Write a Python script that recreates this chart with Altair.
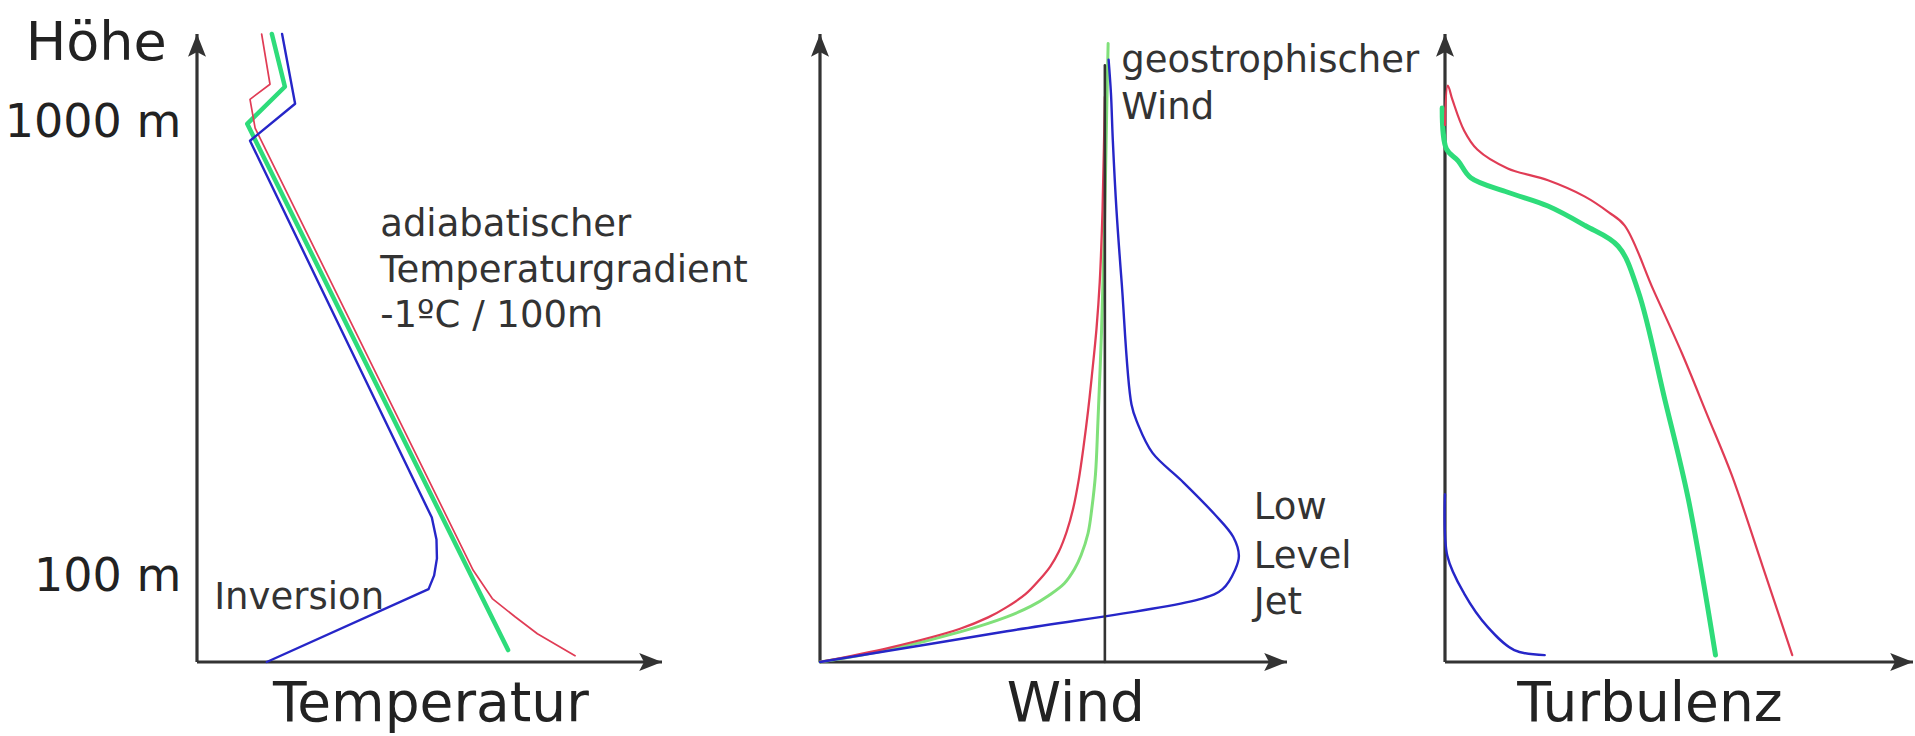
import altair as alt
import pandas as pd

FONT = "DejaVu Sans"
AXIS_COLOR = "#333333"
TEXT_COLOR = "#2a2a2a"
RED = "#e03c55"
GREEN = "#2edc7a"
LIGHT_GREEN = "#80e07a"
BLUE = "#2626c8"

# All three panels use relative units: 0 at the axis origin, 100 at the arrow tip.

# --- Temperatur (Höhe over Temperatur) ---
temp_red_x = [13.9, 15.7, 11.4, 12.5, 59.4, 63.5, 68.4, 73.2, 81.3]
temp_red_y = [100.0, 92.0, 89.6, 85.0, 14.6, 10.1, 7.2, 4.5, 1.0]
temp_green_x = [16.1, 18.9, 10.8, 66.9]
temp_green_y = [100.0, 91.6, 85.7, 1.9]
temp_blue_x = [18.3, 21.1, 11.4, 50.5, 51.5, 51.6, 51.0, 49.8, 15.0]
temp_blue_y = [100.0, 88.9, 83.0, 23.0, 19.5, 16.5, 13.8, 11.6, 0.0]

height_tick_values = [85.8, 13.5]
height_tick_labels = ["1000 m", "100 m"]

# --- Wind ---
wind_red_x = [0, 15, 30, 36, 39.9, 44, 47, 49.3, 51.1, 52.8, 54.2, 55.4, 56.4,
              57.4, 58.2, 59.2, 59.9, 60.5, 60.8, 61.0]
wind_red_y = [0, 2.3, 5.3, 7.1, 8.7, 10.8, 13.1, 15.2, 17.5, 20.7, 24.4, 29.0,
              34.1, 40.0, 45.5, 53.0, 60.5, 72.0, 82.0, 90.0]
wind_green_x = [0, 15, 30, 40, 45.2, 49, 52.3, 54.5, 55.9, 57.4, 58.2, 59.0,
                59.5, 60.3, 60.8, 61.1, 61.4, 61.7]
wind_green_y = [0, 2.0, 4.8, 7.2, 8.9, 10.6, 12.5, 14.8, 17.0, 20.5, 24.4, 30.0,
                38.0, 53.0, 66.0, 76.0, 88.0, 98.5]
wind_blue_x = [0, 40, 81.8, 86.2, 88.9, 89.7, 88.5, 84.4, 77.4, 71.2, 68.0, 66.7,
               64.6, 63.5, 62.7, 62.3, 61.8]
wind_blue_y = [0, 4.9, 10.1, 11.6, 14.7, 16.9, 19.9, 23.6, 28.9, 33.3, 38.0, 41.0,
               60.4, 71.8, 83.1, 90.6, 95.9]
geostrophic_x = [61.0, 61.0]
geostrophic_y = [0.0, 95.0]

# --- Turbulenz ---
turb_red_x = [0, 0.6, 1.6, 4.1, 6.9, 13.4, 22.0, 29.9, 35.0, 38.4, 44.5, 50.6,
              56.0, 61.3, 67.8, 74.2]
turb_red_y = [85.5, 91.8, 89.5, 84.6, 81.6, 78.6, 76.7, 74.1, 71.6, 69.5, 59.3,
              49.2, 39.4, 29.7, 15.4, 1.1]
turb_green_x = [-0.6, 0.3, 2.8, 5.5, 13.4, 22.0, 29.9, 37.0, 41.3, 47.0, 52.0, 57.8]
turb_green_y = [88.2, 81.7, 79.8, 77.1, 74.8, 72.6, 69.5, 66.2, 59.0, 41.7, 25.9, 1.1]
turb_blue_x = [0, 0.5, 4.1, 9.1, 14.8, 21.3]
turb_blue_y = [26.7, 16.9, 10.9, 5.6, 1.9, 1.1]

# Annotations (text, x, y in panel units)
temp_notes = [("adiabatischer", 39.4, 67.8),
              ("Temperaturgradient", 39.4, 60.5),
              ("-1ºC / 100m", 39.4, 53.4),
              ("Inversion", 3.7, 8.4)]
wind_notes = [("geostrophischer", 64.5, 94.0),
              ("Wind", 64.5, 86.4),
              ("Low", 92.9, 22.7),
              ("Level", 92.9, 15.0),
              ("Jet", 92.9, 7.6)]
panel_titles = [("Temperatur", 50.3), ("Wind", 54.8), ("Turbulenz", 43.8)]
title_y = -9.4

ARROW_RIGHT = "M1,0 L-0.9,-0.75 L-0.5,0 L-0.9,0.75 Z"
ARROW_UP = "M0,-1 L-0.75,0.9 L0,0.5 L0.75,0.9 Z"
ARROW_SIZE = 576  # half-extent of 12 px

X = alt.Scale(domain=[0, 100], nice=False, zero=False)
Y = alt.Scale(domain=[0, 100], nice=False, zero=False)


def xy(xfield="x", yfield="y"):
    return dict(x=alt.X(f"{xfield}:Q", scale=X, axis=None),
                y=alt.Y(f"{yfield}:Q", scale=Y, axis=None))


def curve(xs, ys, color, width, interpolate="linear"):
    df = pd.DataFrame({"x": xs, "y": ys, "i": list(range(len(xs)))})
    return alt.Chart(df).mark_line(
        color=color, strokeWidth=width, interpolate=interpolate,
        strokeCap="round", strokeJoin="round"
    ).encode(order="i:Q", **xy())


def axes():
    df = pd.DataFrame({"x0": [0], "x1": [100], "y0": [0], "y1": [100]})
    base = alt.Chart(df)
    x_line = base.mark_rule(color=AXIS_COLOR, strokeWidth=3.2).encode(
        x=alt.X("x0:Q", scale=X, axis=None), x2="x1:Q",
        y=alt.Y("y0:Q", scale=Y, axis=None))
    y_line = base.mark_rule(color=AXIS_COLOR, strokeWidth=3.2).encode(
        x=alt.X("x0:Q", scale=X, axis=None),
        y=alt.Y("y0:Q", scale=Y, axis=None), y2="y1:Q")
    x_head = base.mark_point(shape=ARROW_RIGHT, size=ARROW_SIZE, filled=True,
                             color=AXIS_COLOR, opacity=1, strokeWidth=0,
                             xOffset=-12).encode(**xy("x1", "y0"))
    y_head = base.mark_point(shape=ARROW_UP, size=ARROW_SIZE, filled=True,
                             color=AXIS_COLOR, opacity=1, strokeWidth=0,
                             yOffset=12).encode(**xy("x0", "y1"))
    return [x_line, y_line, x_head, y_head]


def texts(rows, size, align, baseline, color=TEXT_COLOR):
    df = pd.DataFrame(rows, columns=["text", "x", "y"])
    return alt.Chart(df).mark_text(
        font=FONT, fontSize=size, align=align, baseline=baseline, color=color
    ).encode(text="text:N", **xy())


def title(i):
    name, x = panel_titles[i]
    return texts([(name, x, title_y)], 55, "center", "alphabetic", "#222222")


temp_panel = alt.layer(
    *axes(),
    curve(temp_green_x, temp_green_y, GREEN, 4.5),
    curve(temp_red_x, temp_red_y, RED, 1.7),
    curve(temp_blue_x, temp_blue_y, BLUE, 2.4),
    texts(temp_notes, 37, "left", "alphabetic", "#333333"),
    texts([(lab, -3.4, v) for lab, v in zip(height_tick_labels, height_tick_values)],
          46, "right", "middle", "#222222"),
    texts([("Höhe", -6.5, 95.9)], 54, "right", "alphabetic", "#222222"),
    title(0),
).properties(width=465, height=628)

wind_panel = alt.layer(
    *axes(),
    curve(wind_green_x, wind_green_y, LIGHT_GREEN, 3.0, "catmull-rom"),
    curve(wind_red_x, wind_red_y, RED, 2.3, "catmull-rom"),
    curve(wind_blue_x, wind_blue_y, BLUE, 2.4, "catmull-rom"),
    curve(geostrophic_x, geostrophic_y, AXIS_COLOR, 2.6),
    texts(wind_notes, 37, "left", "alphabetic", "#333333"),
    title(1),
).properties(width=467, height=628)

turb_panel = alt.layer(
    *axes(),
    curve(turb_green_x, turb_green_y, GREEN, 5.0, "catmull-rom"),
    curve(turb_red_x, turb_red_y, RED, 2.2, "catmull-rom"),
    curve(turb_blue_x, turb_blue_y, BLUE, 2.4, "catmull-rom"),
    title(2),
).properties(width=468, height=628)

chart = alt.hconcat(
    temp_panel, wind_panel, turb_panel, spacing=158, bounds="flush"
).properties(
    padding={"left": 4, "top": 16, "right": 0, "bottom": 0},
    background="white",
).configure_view(stroke=None)

chart.save("out.html", embed_options={"renderer": "svg", "actions": False})
